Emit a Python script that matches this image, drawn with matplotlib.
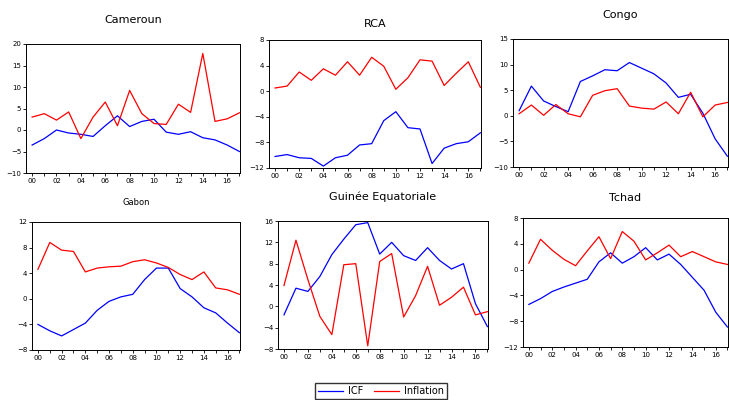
import matplotlib.pyplot as plt
import numpy as np

years = np.arange(2000, 2018)

# ICF (bleu) et inflation (rouge) par pays
cmr_icf = [-3.5, -2.0, 0.0, -0.7, -1.0, -1.5, 1.0, 3.3, 0.8, 2.0, 2.5, -0.5, -1.0, -0.4, -1.8, -2.3, -3.5, -5.0]
cmr_inf = [3.0, 3.8, 2.3, 4.2, -2.0, 3.0, 6.5, 1.0, 9.2, 3.8, 1.5, 1.3, 6.0, 4.1, 17.8, 2.0, 2.6, 4.0]

rca_icf = [-10.2, -9.9, -10.4, -10.5, -11.7, -10.4, -10.0, -8.4, -8.2, -4.6, -3.2, -5.7, -5.9, -11.3, -8.9, -8.2, -7.9, -6.5]
rca_inf = [0.5, 0.8, 3.0, 1.7, 3.5, 2.5, 4.6, 2.5, 5.3, 3.9, 0.3, 2.1, 4.9, 4.7, 0.9, 2.8, 4.6, 0.6]

cog_icf = [1.0, 5.8, 2.9, 1.8, 0.8, 6.7, 7.8, 9.0, 8.8, 10.4, 9.3, 8.2, 6.4, 3.6, 4.2, 0.5, -4.5, -7.9]
cog_inf = [0.4, 2.1, 0.1, 2.2, 0.4, -0.2, 4.0, 4.9, 5.3, 1.9, 1.5, 1.3, 2.7, 0.4, 4.6, -0.2, 2.1, 2.6]

gab_icf = [-4.0, -5.0, -5.8, -4.8, -3.8, -1.8, -0.4, 0.3, 0.7, 3.0, 4.8, 4.8, 1.6, 0.3, -1.4, -2.2, -3.8, -5.3]
gab_inf = [4.6, 8.8, 7.6, 7.4, 4.2, 4.8, 5.0, 5.1, 5.8, 6.1, 5.6, 4.9, 3.8, 3.0, 4.2, 1.7, 1.4, 0.7]

gnq_icf = [-1.6, 3.4, 2.8, 5.6, 9.7, 12.6, 15.3, 15.7, 9.8, 12.0, 9.5, 8.6, 11.0, 8.6, 7.0, 8.0, 0.5, -3.8]
gnq_inf = [3.9, 12.4, 5.0, -1.9, -5.3, 7.8, 8.0, -7.4, 8.4, 9.9, -2.0, 2.0, 7.5, 0.2, 1.7, 3.6, -1.6, -1.0]

tcd_icf = [-5.4, -4.5, -3.4, -2.7, -2.1, -1.5, 1.2, 2.6, 1.0, 2.0, 3.4, 1.5, 2.4, 0.8, -1.2, -3.2, -6.6, -8.9]
tcd_inf = [1.0, 4.7, 3.0, 1.6, 0.6, 2.9, 5.1, 1.7, 5.9, 4.4, 1.5, 2.6, 3.8, 2.0, 2.8, 2.0, 1.2, 0.8]

W, H = 729, 400
fig = plt.figure(figsize=(W / 100, H / 100), dpi=100)
fig.set(facecolor='white')

# (nom, icf, inflation, yticks, [gauche, droite, haut, bas] en pixels, y du titre, taille du titre)
panels = [
    ('Cameroun', cmr_icf, cmr_inf, np.arange(-10, 21, 5), [26, 240, 44, 173], 20, 8),
    ('RCA', rca_icf, rca_inf, np.arange(-12, 9, 4), [269, 481, 40, 168], 24, 8),
    ('Congo', cog_icf, cog_inf, np.arange(-10, 16, 5), [513, 728, 39, 167], 15, 8),
    ('Gabon', gab_icf, gab_inf, np.arange(-8, 13, 4), [32, 240, 222, 350], 203, 6),
    ('Guinée Equatoriale', gnq_icf, gnq_inf, np.arange(-8, 17, 4), [278, 488, 221, 349], 197, 8),
    ('Tchad', tcd_icf, tcd_inf, np.arange(-12, 9, 4), [523, 728, 218, 347], 198, 8),
]

for name, icf, inf, yt, (l, r, t, b), ty, fs in panels:
    ax = fig.add_axes([l / W, 1 - b / H, (r - l) / W, (b - t) / H])
    l1, = ax.plot(years, icf, color='#0000ff', lw=0.9)
    l2, = ax.plot(years, inf, color='#ff0000', lw=0.9)
    ax.set_xlim(1999.5, 2017.05)
    ax.set_ylim(yt[0], yt[-1])
    ax.set_yticks(yt)
    ax.set_xticks(years)
    ax.set_xticklabels([('%02d' % (y % 100)) if y % 2 == 0 else '' for y in years])
    ax.tick_params(labelsize=5, length=2, width=0.6, pad=1.5)
    for s in ax.spines.values():
        s.set_linewidth(0.7)
    fig.text((l + r) / 2 / W, 1 - ty / H, name, ha='center', va='center', fontsize=fs)

fig.legend([l1, l2], ['ICF', 'Inflation'], loc='center', bbox_to_anchor=(381 / W, 1 - 391 / H),
           ncol=2, fontsize=7, frameon=True, fancybox=False, edgecolor='black',
           handlelength=2.5, borderpad=0.3, columnspacing=1.2, handletextpad=0.5)

fig.savefig('out.png', dpi=100)
